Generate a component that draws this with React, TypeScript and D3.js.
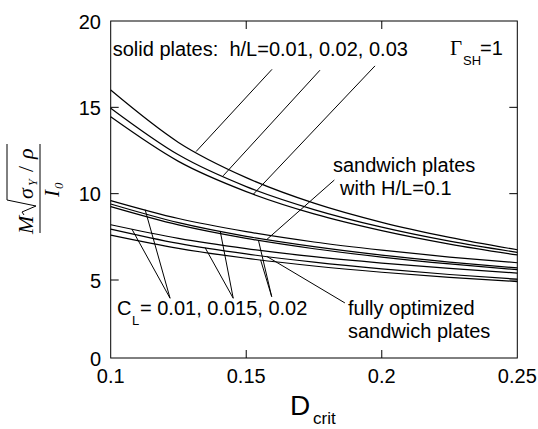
import React from 'react';
import * as d3 from 'd3';

// ---- data ----
const dValues = [0.1, 0.125, 0.15, 0.175, 0.2, 0.225, 0.25];
// solid plates h/L = 0.01, 0.02, 0.03
const solidA = [16.0, 12.97, 10.93, 9.45, 8.34, 7.47, 6.75];
const solidB = [14.95, 12.25, 10.41, 9.08, 8.06, 7.25, 6.6];
const solidC = [14.45, 11.87, 10.12, 8.83, 7.86, 7.08, 6.45];
// sandwich plates H/L = 0.1, C_L = 0.01, 0.015, 0.02
const sandA = [9.6, 8.56, 7.8, 7.2, 6.73, 6.33, 6.0];
const sandB = [9.4, 8.32, 7.53, 6.93, 6.44, 6.04, 5.7];
const sandC = [9.25, 8.19, 7.41, 6.81, 6.33, 5.93, 5.6];
// fully optimized sandwich plates, C_L = 0.01, 0.015, 0.02
const optA = [8.2, 7.41, 6.82, 6.35, 5.98, 5.67, 5.4];
const optB = [7.95, 7.12, 6.51, 6.03, 5.64, 5.32, 5.05];
const optC = [7.6, 6.83, 6.26, 5.81, 5.45, 5.15, 4.9];

const xTicks = [0.1, 0.15, 0.2, 0.25];
const yTicks = [0, 5, 10, 15, 20];
const xTickLabels = ['0.1', '0.15', '0.2', '0.25'];
const yTickLabels = ['0', '5', '10', '15', '20'];

// leader lines: start point [D, value] and end point on a series at D
const solidLeaderStart = [[0.1595, 17.2], [0.1772, 17.15], [0.1975, 17.4]];
const solidLeaderEnd = [0.1315, 0.1415, 0.1527];
const sandLeaderStart = [0.1825, 10.79];
const sandLeaderEnd = 0.1576;
const clApex = [[0.1219, 3.83], [0.1452, 3.83], [0.1594, 3.93]];
const clSandEnd = [0.1127, 0.1404, 0.1545];
const clOptEnd = [0.1078, 0.1348, 0.1553];
const optLeaderStart = [0.1864, 3.53];
const optLeaderEnd = 0.1576;

const SANS = '"Liberation Sans", Arial, sans-serif';
const SERIF = '"Liberation Serif", "Times New Roman", serif';

function valueAt(series: number[], d: number): number {
  const i = Math.min(Math.max(d3.bisectRight(dValues, d) - 1, 0), dValues.length - 2);
  const t = (d - dValues[i]) / (dValues[i + 1] - dValues[i]);
  return series[i] + t * (series[i + 1] - series[i]);
}

export default function App() {
  const x = d3.scaleLinear().domain([0.1, 0.25]).range([110.7, 517.3]);
  const y = d3.scaleLinear().domain([0, 5, 20]).range([358, 280, 21]);
  const line = d3
    .line<number>()
    .x((_, i) => x(dValues[i]))
    .y((v) => y(v))
    .curve(d3.curveMonotoneX);

  const allSeries = [solidA, solidB, solidC, sandA, sandB, sandC, optA, optB, optC];
  const solids = [solidA, solidB, solidC];
  const sands = [sandA, sandB, sandC];
  const opts = [optA, optB, optC];

  const left = x(0.1), right = x(0.25), top = y(20), bottom = y(0);
  const tickLen = 8;

  const seg = (x1: number, y1: number, x2: number, y2: number, key: string) => (
    <line key={key} x1={x1} y1={y1} x2={x2} y2={y2} stroke="#000" strokeWidth={1} />
  );

  const leaders: JSX.Element[] = [];
  solidLeaderStart.forEach((s, i) => {
    const e = solidLeaderEnd[i];
    leaders.push(seg(x(s[0]), y(s[1]), x(e), y(valueAt(solids[i], e)), 'sl' + i));
  });
  leaders.push(
    seg(x(sandLeaderStart[0]), y(sandLeaderStart[1]), x(sandLeaderEnd), y(valueAt(sandB, sandLeaderEnd)), 'sw')
  );
  clApex.forEach((a, i) => {
    leaders.push(seg(x(a[0]), y(a[1]), x(clSandEnd[i]), y(valueAt(sands[i], clSandEnd[i])), 'cs' + i));
    leaders.push(seg(x(a[0]), y(a[1]), x(clOptEnd[i]), y(valueAt(opts[i], clOptEnd[i])), 'co' + i));
  });
  leaders.push(
    seg(x(optLeaderStart[0]), y(optLeaderStart[1]), x(optLeaderEnd), y(valueAt(optB, optLeaderEnd)), 'fo')
  );

  return (
    <svg
      width={538}
      height={429}
      style={{ position: 'absolute', left: 0, top: 0, background: '#fff' }}
    >
      <rect x={0} y={0} width={538} height={429} fill="#fff" />
      {/* frame */}
      <rect x={left} y={top} width={right - left} height={bottom - top} fill="none" stroke="#000" strokeWidth={1} />
      {/* x ticks */}
      {xTicks.map((t, i) => (
        <g key={'xt' + i}>
          {i > 0 && i < xTicks.length - 1 && (
            <>
              <line x1={x(t)} x2={x(t)} y1={bottom} y2={bottom - tickLen} stroke="#000" />
              <line x1={x(t)} x2={x(t)} y1={top} y2={top + tickLen} stroke="#000" />
            </>
          )}
          <text x={x(t)} y={383} textAnchor="middle" fontFamily={SANS} fontSize={20}>
            {xTickLabels[i]}
          </text>
        </g>
      ))}
      {/* y ticks */}
      {yTicks.map((t, i) => (
        <g key={'yt' + i}>
          {i > 0 && i < yTicks.length - 1 && (
            <>
              <line x1={left} x2={left + tickLen} y1={y(t)} y2={y(t)} stroke="#000" />
              <line x1={right} x2={right - tickLen} y1={y(t)} y2={y(t)} stroke="#000" />
            </>
          )}
          <text x={101} y={y(t) + 7.5} textAnchor="end" fontFamily={SANS} fontSize={20}>
            {yTickLabels[i]}
          </text>
        </g>
      ))}
      {/* curves */}
      {allSeries.map((s, i) => (
        <path key={'c' + i} d={line(s) || ''} fill="none" stroke="#000" strokeWidth={1.2} />
      ))}
      {leaders}
      {/* labels */}
      <text x={112.7} y={56} fontFamily={SANS} fontSize={20} style={{ whiteSpace: 'pre' }}>
        {'solid plates:  h/L=0.01, 0.02, 0.03'}
      </text>
      <text x={450} y={55} fontFamily={SERIF} fontSize={21}>Γ</text>
      <text x={463} y={65} fontFamily={SANS} fontSize={13}>SH</text>
      <text x={480} y={55} fontFamily={SANS} fontSize={20}>=1</text>
      <text x={333} y={171.7} fontFamily={SANS} fontSize={20}>sandwich plates</text>
      <text x={340} y={195} fontFamily={SANS} fontSize={20}>with H/L=0.1</text>
      <text x={117} y={315} fontFamily={SANS} fontSize={20}>C</text>
      <text x={132} y={325} fontFamily={SANS} fontSize={13}>L</text>
      <text x={140} y={315} fontFamily={SANS} fontSize={20}>= 0.01, 0.015, 0.02</text>
      <text x={348} y={315} fontFamily={SANS} fontSize={20}>fully optimized</text>
      <text x={348} y={338} fontFamily={SANS} fontSize={20}>sandwich plates</text>
      {/* x axis title */}
      <text x={290} y={415} fontFamily={SANS} fontSize={28}>D</text>
      <text x={313} y={424} fontFamily={SANS} fontSize={17}>crit</text>
      {/* y axis title: M sqrt(sigma_Y / rho) / I_0 */}
      <g transform="translate(38,188) rotate(-90)" fontFamily={SERIF} fontStyle="italic">
        <text x={-46} y={-5} fontSize={22}>M</text>
        <path d="M -27,-14 L -24,-16 L -18,-2 L -12,-31 L 44,-31" fill="none" stroke="#000" strokeWidth={1} />
        <text x={-11} y={-5} fontSize={22}>σ</text>
        <text x={2} y={-1} fontSize={12}>Y</text>
        <text x={16} y={-5} fontSize={22} fontStyle="normal">/</text>
        <text x={29} y={-5} fontSize={22}>ρ</text>
        <line x1={-45} x2={44} y1={2} y2={2} stroke="#000" strokeWidth={1} />
        <text x={-9} y={21} fontSize={21}>I</text>
        <text x={-1} y={25} fontSize={13}>0</text>
      </g>
    </svg>
  );
}
